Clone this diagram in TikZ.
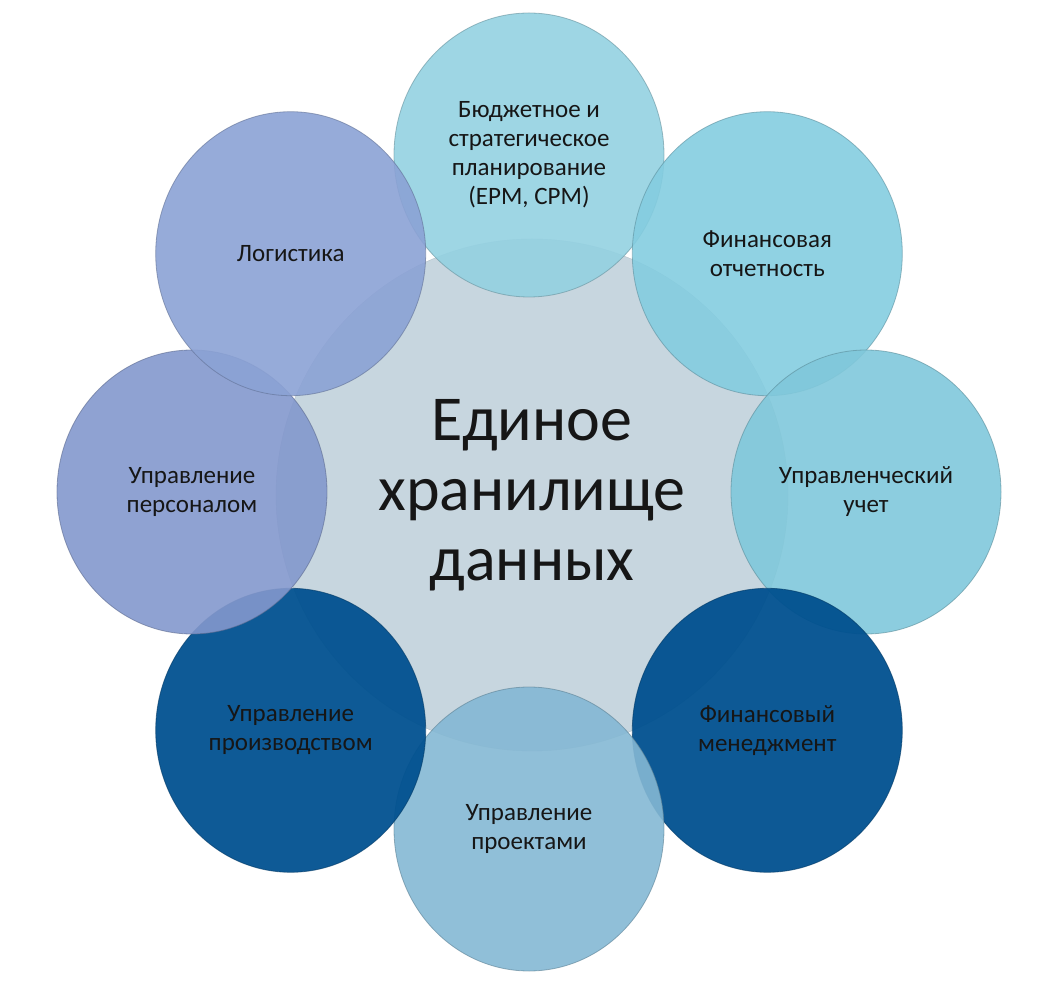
\documentclass[tikz,border=0pt]{standalone}
\usepackage{fontspec}
\setmainfont{Carlito}
\usetikzlibrary{shapes.geometric, positioning}
\definecolor{hubcol}{HTML}{C7D6DF}
\definecolor{budgetcol}{HTML}{93D1E1}
\definecolor{reportcol}{HTML}{84CDE0}
\definecolor{acccol}{HTML}{80C8DB}
\definecolor{finmancol}{HTML}{00508F}
\definecolor{projcol}{HTML}{84B8D4}
\definecolor{prodcol}{HTML}{015190}
\definecolor{staffcol}{HTML}{8398CD}
\definecolor{logcol}{HTML}{8BA2D5}
\definecolor{labelcol}{HTML}{161616}

\begin{document}
\begin{tikzpicture}[x=1pt, y=1pt]
% Define hub and topic styles
\tikzstyle{hub} = [circle, draw=hubcol!75!black, draw opacity=0.5, fill=hubcol, minimum size=512pt, inner sep=0pt, align=center, text=labelcol, font=\fontsize{64}{70}\selectfont]
\tikzstyle{topic} = [ellipse, line width=0.8pt, draw opacity=0.6, fill opacity=0.9, text opacity=1, text=labelcol, minimum width=270pt, minimum height=284pt, inner sep=0pt, align=center, font=\fontsize{25}{29}\selectfont]
\tikzstyle{darktopic} = [topic, fill opacity=0.95]
\useasboundingbox (-529,-500) rectangle (527,492);
% Define central node
\node[hub] (Storage) at (3,-3) {Единое\\хранилище\\данных};
% Define topic nodes around the hub
\node[topic, fill=budgetcol, draw=budgetcol!70!black] (Budget) at (90:337) {Бюджетное и\\стратегическое\\планирование\\(EPM, CPM)};
\node[topic, fill=reportcol, draw=reportcol!70!black] (Reporting) at (45:337) {Финансовая\\отчетность};
\node[topic, fill=acccol, draw=acccol!70!black] (Accounting) at (0:337) {Управленческий\\учет};
\node[darktopic, fill=finmancol, draw=finmancol!70!black] (FinManagement) at (-45:337) {Финансовый\\менеджмент};
\node[topic, fill=projcol, draw=projcol!70!black] (Projects) at (-90:337) {Управление\\проектами};
\node[darktopic, fill=prodcol, draw=prodcol!70!black] (Production) at (-135:337) {Управление\\производством};
\node[topic, fill=staffcol, draw=staffcol!70!black] (Staff) at (180:337) {Управление\\персоналом};
\node[topic, fill=logcol, draw=logcol!70!black] (Logistics) at (135:337) {Логистика};
\end{tikzpicture}
\end{document}
